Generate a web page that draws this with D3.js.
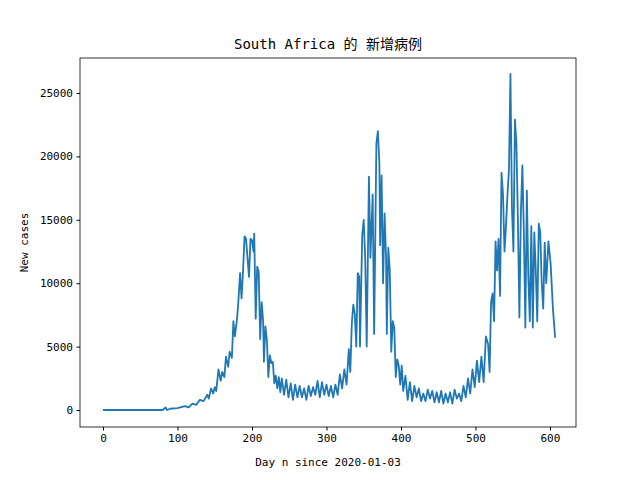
<!DOCTYPE html>
<html>
<head>
<meta charset="utf-8">
<script src="https://cdn.jsdelivr.net/npm/d3@7"></script>
<style>
body { margin: 0; background: #fff; }
text { font-family: "DejaVu Sans Mono", "Noto Sans CJK SC", monospace; }
</style>
</head>
<body>
<script>
// hand-read points (day, new cases)
var days = [0,80,84,86,90,100,110,115,120,125,130,135,140,142,145,148,150,152,155,158,160,163,165,168,170,173,175,177,180,182,184,186,188,190,192,194,196,198,200,202,203,205,207,209,211,213,215,216,218,220,222,224,226,228,230,232,234,236,238,240,243,246,249,252,255,258,261,264,267,270,273,276,279,282,285,288,291,294,297,300,303,306,309,312,315,318,321,324,327,330,332,334,336,338,340,342,344,345,348,350,352,354,357,359,362,364,367,369,371,372,374,376,378,380,381,383,385,387,389,391,393,395,397,399,401,403,406,409,412,415,418,421,424,427,430,433,436,439,442,445,448,451,454,457,460,463,466,469,472,475,478,481,484,487,490,493,496,499,502,505,508,511,514,517,519,521,523,525,527,529,531,533,535,537,539,541,543,545,547,549,551,553,555,557,559,561,563,565,567,569,571,573,575,577,579,581,583,585,587,589,591,593,595,598,601,604,607];
var cases = [0,0,200,0,100,150,300,200,500,400,800,700,1200,900,1700,1300,1800,1500,3200,2300,3000,2600,4200,3400,4600,4100,7000,5800,7200,8800,10800,8800,11000,13700,13500,12000,10500,13500,13400,12500,13900,7200,11300,10900,5600,8500,7000,3800,6600,5500,2600,4300,3700,3800,2100,2700,1700,2600,1400,2500,1200,2400,1000,2100,800,2000,1000,1900,1000,1700,800,1900,1100,1800,1200,2300,1000,2200,1200,2000,1100,1900,1000,2000,1200,2800,1700,3200,2000,4800,3000,6800,8300,7600,5000,10800,10500,5000,13800,15000,12000,5000,18400,12000,17000,6000,21000,22000,19500,13000,18500,10000,15500,12000,6000,12800,11000,4600,7000,6500,2600,4000,3500,2000,3500,1500,2700,800,2200,700,1900,1000,1700,700,1300,700,1600,900,1500,600,1400,600,1500,500,1300,600,1400,500,1600,900,1300,700,1900,1000,2500,1300,3200,1800,3900,2200,4200,2200,5800,5200,3000,8500,9200,7000,13300,11000,13500,9000,18700,17000,12500,14500,17000,19000,26500,16000,12500,22900,21000,15000,7300,15500,19300,14000,6500,17300,10500,7000,14500,6500,14000,11000,7000,14700,14000,10000,8000,13200,10000,13300,11500,8000,5700];
var xTicks = [0,100,200,300,400,500,600];
var yTicks = [0,5000,10000,15000,20000,25000];

var W = 640, H = 480, mLeft = 80, mRight = 576, mTop = 58, mBottom = 427;
var svg = d3.select('body').append('svg').attr('width', W).attr('height', H);

var x = d3.scaleLinear().domain([-30.9, 635]).range([mLeft, mRight]);
var y = d3.scaleLinear().domain([-1340, 27760]).range([mBottom, mTop]);

var pts = days.map(function(d, i){ return [d, cases[i]]; });

svg.append('path')
   .datum(pts)
   .attr('fill', 'none')
   .attr('stroke', '#1f77b4')
   .attr('stroke-width', 1.8)
   .attr('stroke-linejoin', 'round')
   .attr('d', d3.line().x(function(d){ return x(d[0]); }).y(function(d){ return y(d[1]); }));

svg.append('g')
   .attr('transform', 'translate(0,' + mBottom + ')')
   .call(d3.axisBottom(x).tickValues(xTicks).tickSize(3.5).tickPadding(3.5).tickFormat(d3.format('d')))
   .call(function(g){ g.select('.domain').remove(); });
svg.append('g')
   .attr('transform', 'translate(' + mLeft + ',0)')
   .call(d3.axisLeft(y).tickValues(yTicks).tickSize(3.5).tickPadding(3.5).tickFormat(d3.format('d')))
   .call(function(g){ g.select('.domain').remove(); });
svg.selectAll('.tick text').attr('font-size', 11).attr('fill', '#000')
   .style('font-family', '"DejaVu Sans Mono", monospace');
svg.selectAll('.tick line').attr('stroke', '#000');

svg.append('rect').attr('x', mLeft).attr('y', mTop).attr('width', mRight - mLeft).attr('height', mBottom - mTop)
   .attr('fill', 'none').attr('stroke', '#000').attr('stroke-width', 0.8);

svg.append('text').attr('x', (mLeft + mRight) / 2).attr('y', 49).attr('text-anchor', 'middle')
   .attr('font-size', 14).text('South Africa 的 新增病例');
svg.append('text').attr('x', (mLeft + mRight) / 2).attr('y', 466).attr('text-anchor', 'middle')
   .attr('font-size', 11).text('Day n since 2020-01-03');
svg.append('text').attr('transform', 'translate(28,' + ((mTop + mBottom) / 2) + ') rotate(-90)')
   .attr('text-anchor', 'middle').attr('font-size', 11).text('New cases');
</script>
</body>
</html>
